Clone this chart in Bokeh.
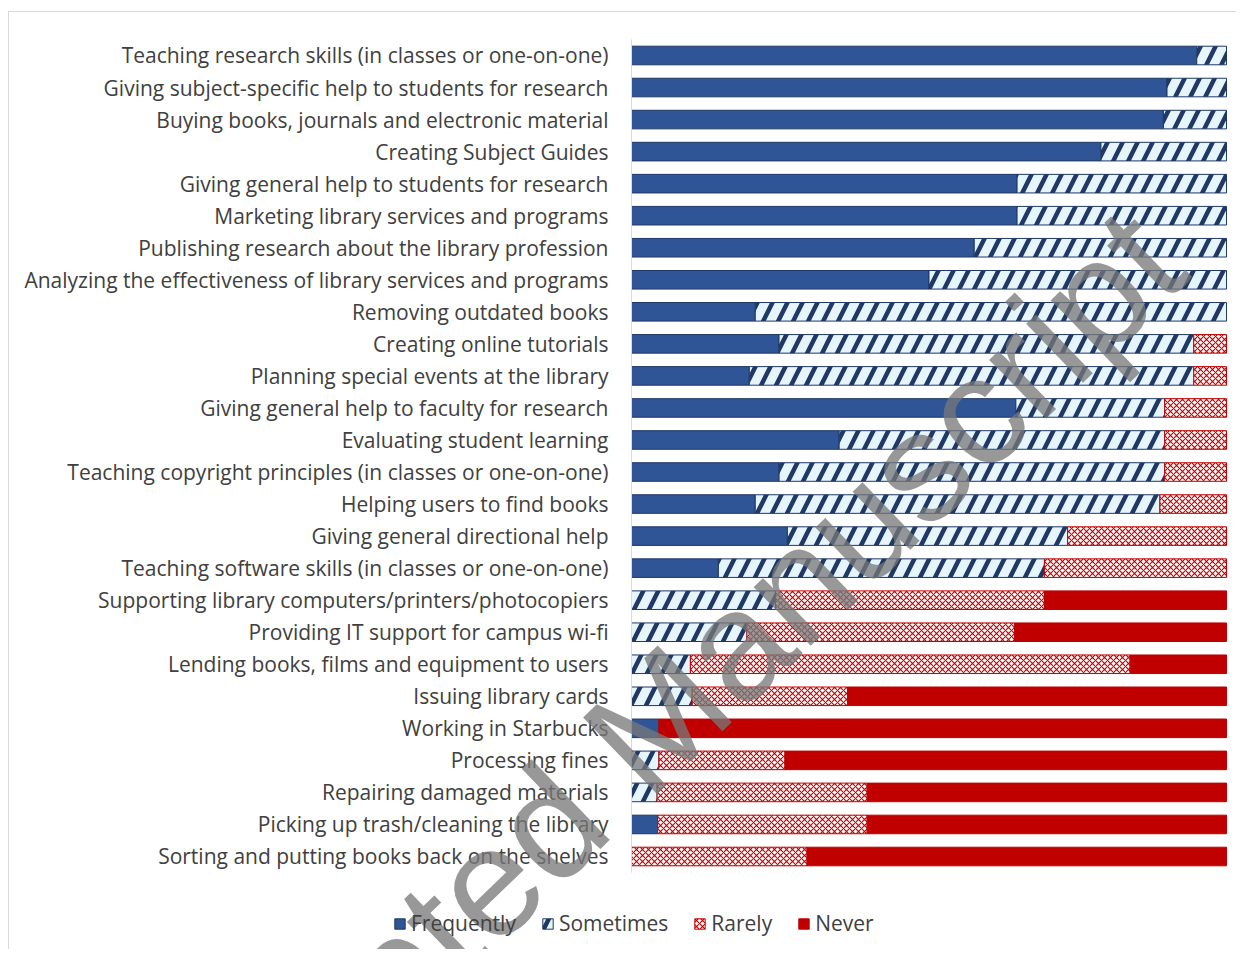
from bokeh.plotting import figure
from bokeh.models import ColumnDataSource, FactorRange, Range1d, Legend, LegendItem, Label
from bokeh.core.properties import value
from bokeh.transform import dodge
from bokeh.embed import file_html
from bokeh.resources import INLINE

categories = [
    "Teaching research skills (in classes or one-on-one)",
    "Giving subject-specific help to students for research",
    "Buying books, journals and electronic material",
    "Creating Subject Guides",
    "Giving general help to students for research",
    "Marketing library services and programs",
    "Publishing research about the library profession",
    "Analyzing the effectiveness of library services and programs",
    "Removing outdated books",
    "Creating online tutorials",
    "Planning special events at the library",
    "Giving general help to faculty for research",
    "Evaluating student learning",
    "Teaching copyright principles (in classes or one-on-one)",
    "Helping users to find books",
    "Giving general directional help",
    "Teaching software skills (in classes or one-on-one)",
    "Supporting library computers/printers/photocopiers",
    "Providing IT support for campus wi-fi",
    "Lending books, films and equipment to users",
    "Issuing library cards",
    "Working in Starbucks",
    "Processing fines",
    "Repairing damaged materials",
    "Picking up trash/cleaning the library",
    "Sorting and putting books back on the shelves",
]

frequently = [95.0, 90.0, 89.4, 78.9, 64.8, 64.8, 57.6, 50.0, 20.8, 24.8, 19.8, 64.6, 34.9,
              24.8, 20.8, 26.2, 14.6, 0.0, 0.0, 0.0, 0.0, 4.6, 0.0, 0.0, 4.4, 0.0]
sometimes = [5.0, 10.0, 10.6, 21.1, 35.2, 35.2, 42.4, 50.0, 79.2, 69.7, 74.7, 25.0, 54.7,
             64.8, 68.0, 47.1, 54.8, 24.2, 19.4, 9.9, 10.2, 0.0, 4.6, 4.3, 0.0, 0.0]
rarely = [0.0, 0.0, 0.0, 0.0, 0.0, 0.0, 0.0, 0.0, 0.0, 5.5, 5.5, 10.4, 10.4,
          10.4, 11.2, 26.7, 30.6, 45.2, 45.0, 73.9, 26.1, 0.0, 21.2, 35.3, 35.2, 29.5]
never = [0.0, 0.0, 0.0, 0.0, 0.0, 0.0, 0.0, 0.0, 0.0, 0.0, 0.0, 0.0, 0.0,
         0.0, 0.0, 0.0, 0.0, 30.6, 35.6, 16.2, 63.7, 95.4, 74.2, 60.4, 60.4, 70.5]

series = ["Frequently", "Sometimes", "Rarely", "Never"]
watermark = "Accepted Manuscript"

series_values = [frequently, sometimes, rarely, never]
data = dict(cat=categories, Frequently=frequently, Sometimes=sometimes, Rarely=rarely, Never=never)
# hide the outline of empty (zero-length) segments
for name, vals in zip(series, series_values):
    data[name + "_la"] = [1.0 if v > 0 else 0.0 for v in vals]
source = ColumnDataSource(data=data)

FONT = "Open Sans"
TEXT = "#404040"
W, H = 1228, 938
PX_PER_PCT = 5.95          # 100 % -> 595 px
ZERO_X = 622               # pixel where 0 % sits
ROW_PX = 32.04             # pixels per category row
N = len(categories)
PAD = (H / ROW_PX - N) / 2  # symmetric padding (units, each side)
SHIFT = 0.796              # move rows up so the legend fits below them

p = figure(width=W, height=H, output_backend="svg", toolbar_location=None,
           y_range=FactorRange(factors=list(reversed(categories)),
                               range_padding=PAD, range_padding_units="absolute"),
           x_range=Range1d(-ZERO_X / PX_PER_PCT, (W - ZERO_X) / PX_PER_PCT),
           min_border_left=0, min_border_right=0, min_border_top=0, min_border_bottom=0)
p.styles = {"border-left": "1px solid #d9d9d9", "border-top": "1px solid #d9d9d9",
            "margin-left": "8px", "margin-top": "11px"}
p.outline_line_color = None
p.xgrid.visible = False
p.ygrid.visible = False
p.xaxis.visible = False
p.yaxis.visible = False

ycat = dodge("cat", SHIFT, range=p.y_range)

renderers = p.hbar_stack(
    series, y=ycat, height=0.58, source=source,
    fill_color=["#2F5597", "#E6F4FC", "#FFFFFF", "#C00000"],
    line_color=["#1F3864", "#1F3864", "#C00000", "#C00000"],
    line_alpha=[s + "_la" for s in series],
    line_width=1,
    hatch_pattern=[" ", "/", "x", " "],
    hatch_color=["#2F5597", "#1F3864", "#C00000", "#C00000"],
    hatch_scale=[12, 30, 6, 12],
    hatch_weight=[1, 4.5, 1.1, 1],
)

# category axis line along 0 %
p.segment(x0=[0], y0=[SHIFT], x1=[0], y1=[N + SHIFT], line_color="#d9d9d9", line_width=1)

# category labels
p.text(x=-23 / PX_PER_PCT, y=ycat, text="cat", source=source,
       text_align="right", text_baseline="middle",
       text_font=value(FONT), text_font_size="21px", text_color=TEXT)

items = []
for s, r, vals in zip(series, renderers, series_values):
    first = next(i for i, v in enumerate(vals) if v > 0)
    items.append(LegendItem(label=s, renderers=[r], index=first))

legend = Legend(items=items, orientation="horizontal", location=(384, 13),
                label_text_font=FONT, label_text_font_size="21px", label_text_color=TEXT,
                glyph_width=13, glyph_height=13, label_standoff=5, spacing=25,
                border_line_color=None, background_fill_alpha=0, padding=2, margin=0)
p.add_layout(legend, "center")

wm = Label(x=0.7, y=SHIFT + 4.12, text=watermark,
           angle=44, angle_units="deg",
           text_align="center", text_baseline="middle", text_font="Liberation Sans",
           text_font_size="155px", text_color="#787878", text_alpha=0.76)
p.add_layout(wm)

open("out.html", "w").write(file_html(p, INLINE))
